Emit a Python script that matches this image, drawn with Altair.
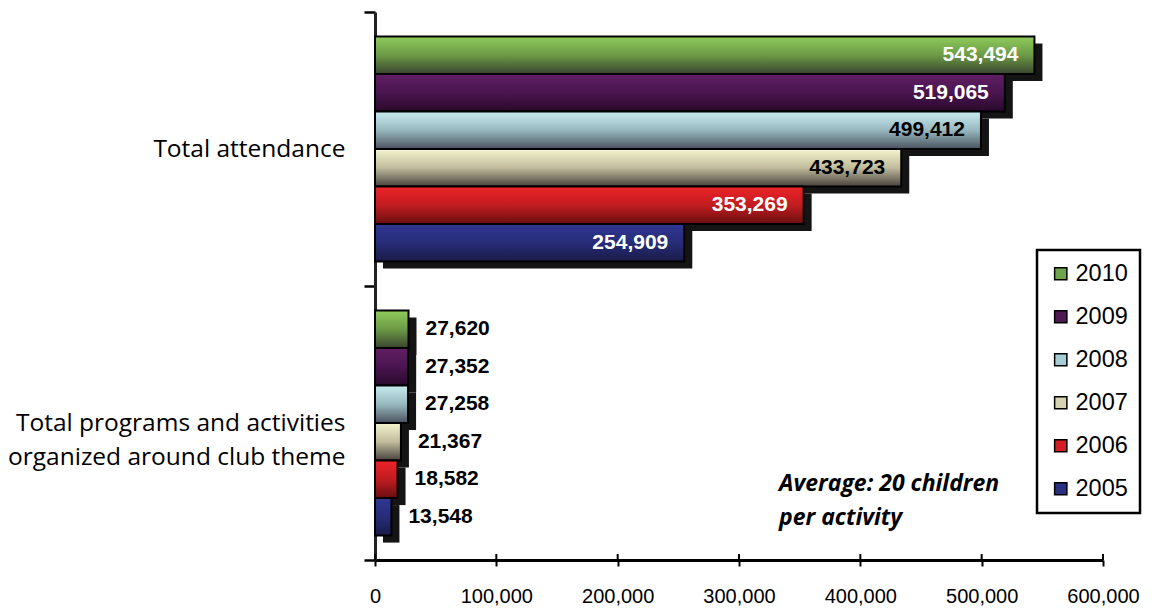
import altair as alt
import pandas as pd

# ---- data ----
categories = ["Total attendance",
              "Total programs and activities\norganized around club theme"]
years = ["2010", "2009", "2008", "2007", "2006", "2005"]
attendance = [543494, 519065, 499412, 433723, 353269, 254909]
programs = [27620, 27352, 27258, 21367, 18582, 13548]
x_ticks = [0, 100000, 200000, 300000, 400000, 500000, 600000]
note_lines = ["Average: 20 children", "per activity"]

# ---- styles ----
gradient_stops = {
    "2010": ("#90cc5c", "#6c9a46", "#39452e"),
    "2009": ("#611f63", "#4a1550", "#29092b"),
    "2008": ("#c8ecf0", "#98b8c0", "#4a525e"),
    "2007": ("#f5f5cf", "#c0bc9c", "#47413d"),
    "2006": ("#ee2329", "#c01c20", "#6a0f0f"),
    "2005": ("#2f3792", "#272c78", "#191b46"),
}
legend_colors = ["#6ea54a", "#4e1852", "#a6cdd3", "#d6d4b0", "#d41f24", "#2a3082"]
light_bars = ["2008", "2007"]

rows = []
for y, a, p in zip(years, attendance, programs):
    rows.append({"category": categories[0], "cat_idx": 0, "year": y, "value": a,
                 "light": y in light_bars})
    rows.append({"category": categories[1], "cat_idx": 1, "year": y, "value": p,
                 "light": y in light_bars})
df = pd.DataFrame(rows)

x_scale = alt.Scale(domain=[0, 600000], nice=False, zero=True)
x_enc = alt.X("value:Q", scale=x_scale,
              axis=alt.Axis(values=x_ticks, labelExpr="format(datum.value, ',')",
                            title=None, grid=False,
                            labelFont="Liberation Sans", labelFontSize=20,
                            labelColor="black", labelPadding=20, labelFlush=False,
                            tickSize=6, tickWidth=2, tickColor="black",
                            domainWidth=3, domainColor="black"))
y_enc = alt.Y("category:N", sort=categories,
              scale=alt.Scale(domain=categories, paddingInner=0, paddingOuter=0),
              axis=alt.Axis(title=None, tickBand="extent", labelFont="Open Sans",
                            labelFontSize=24.5, labelColor="black", labelLimit=500,
                            labelExpr="split(datum.label, '\\n')",
                            labelLineHeight=34, labelPadding=19,
                            tickSize=11, tickWidth=2.5, tickColor="black",
                            domainWidth=3, domainColor="#222222"))
yo_enc = alt.YOffset("year:N", sort=years,
                     scale=alt.Scale(type="band", domain=years, paddingInner=0,
                                     paddingOuter=0.65))
yo_shadow = alt.YOffset("year:N", sort=years,
                        scale=alt.Scale(type="band", domain=years, paddingInner=0,
                                        paddingOuter=0.65, range=[7, 281]))

base = alt.Chart(df).encode(x=x_enc, y=y_enc, yOffset=yo_enc)

shadow = base.mark_bar(color="#141414", xOffset=8, x2Offset=4).encode(yOffset=yo_shadow)

legend_layer = base.mark_bar(opacity=0).encode(
    color=alt.Color("year:N", sort=years,
                    scale=alt.Scale(domain=years, range=legend_colors),
                    legend=alt.Legend(orient="none", legendX=662, legendY=238,
                                      title=None, labelFont="Liberation Sans",
                                      labelFontSize=23.5, labelColor="black",
                                      symbolType="square", symbolSize=150,
                                      symbolStrokeColor="black", symbolStrokeWidth=1.5,
                                      symbolOpacity=1, rowPadding=18, padding=12,
                                      labelOffset=3, strokeColor="black",
                                      fillColor="white")))

bar_layers = []
for y in years:
    top, mid, bot = gradient_stops[y]
    grad = alt.Gradient(gradient="linear",
                        stops=[alt.GradientStop(color=top, offset=0),
                               alt.GradientStop(color=mid, offset=0.5),
                               alt.GradientStop(color=bot, offset=1)],
                        x1=0, x2=0, y1=0, y2=1)
    bar_layers.append(
        base.mark_bar(fill=grad, stroke="black", strokeWidth=2)
        .transform_filter(alt.datum.year == y)
    )

text_common = dict(font="Liberation Sans", fontSize=21, fontWeight="bold", baseline="middle")
top_white = base.mark_text(align="right", dx=-16, color="white", **text_common).encode(
    text=alt.Text("value:Q", format=",")
).transform_filter("datum.cat_idx == 0 && !datum.light")
top_black = base.mark_text(align="right", dx=-16, color="black", **text_common).encode(
    text=alt.Text("value:Q", format=",")
).transform_filter("datum.cat_idx == 0 && datum.light")
bottom_text = base.mark_text(align="left", dx=17, color="black", **text_common).encode(
    text=alt.Text("value:Q", format=",")
).transform_filter("datum.cat_idx == 1")

# upward half of the x-axis ticks (the axis draws the downward half)
tick_up = alt.Chart(pd.DataFrame({"v": x_ticks})).mark_rule(
    color="black", strokeWidth=2
).encode(x=alt.X("v:Q", scale=x_scale), y=alt.value(542), y2=alt.value(548))

note = alt.Chart(pd.DataFrame({"t": [note_lines]})).mark_text(
    align="left", baseline="middle", font="Open Sans", fontSize=23, fontWeight="bold",
    fontStyle="italic", color="black", lineHeight=34
).encode(x=alt.datum(333000), y=alt.value(472), text="t:N")

chart = alt.layer(shadow, legend_layer, *bar_layers, top_white, top_black, bottom_text,
                  tick_up, note).resolve_scale(
    yOffset="independent"
).properties(
    width=728, height=548,
    autosize=alt.AutoSizeParams(type="none"),
    padding={"left": 375, "top": 12, "right": 53, "bottom": 52},
    background="white",
).configure_view(stroke=None).configure_legend(strokeWidth=2.5)

chart.save("out.html", embed_options={"renderer": "svg", "actions": False})
